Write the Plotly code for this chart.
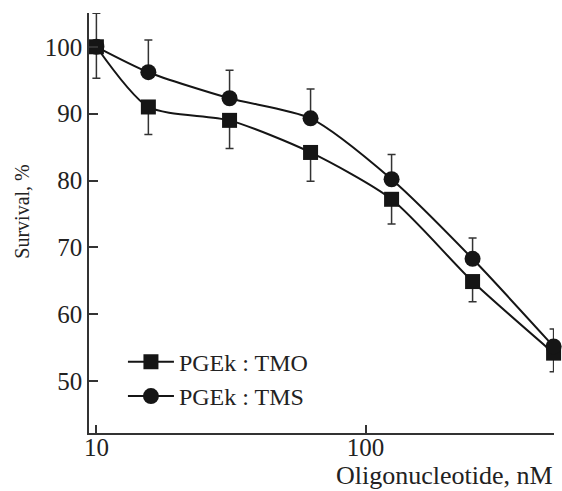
import plotly.graph_objects as go

# Data
conc = [10, 15.6, 31.25, 62.5, 125, 250, 500]
tmo = [100, 91.0, 89.0, 84.2, 77.2, 64.9, 54.2]
tmo_err_minus = [4.7, 4.1, 4.2, 4.3, 3.7, 3.0, 2.8]
tms = [100, 96.2, 92.3, 89.3, 80.2, 68.3, 55.2]
tms_err_plus = [5.0, 4.8, 4.2, 4.4, 3.7, 3.1, 2.6]
names = ["PGEk : TMO", "PGEk : TMS"]
yticks = [50, 60, 70, 80, 90, 100]
xticks = [10, 100]

INK = "#151515"
FONT = "Liberation Serif, Times New Roman, serif"

fig = go.Figure()
fig.add_trace(go.Scatter(
    x=conc, y=tmo, name=names[0], mode="lines+markers",
    line=dict(color=INK, width=2, shape="spline", smoothing=0.7),
    marker=dict(symbol="square", size=15, color=INK),
    error_y=dict(type="data", symmetric=False, array=[0]*len(conc),
                 arrayminus=tmo_err_minus, color="#333", thickness=1.5, width=4),
    cliponaxis=False,
))
fig.add_trace(go.Scatter(
    x=conc, y=tms, name=names[1], mode="lines+markers",
    line=dict(color=INK, width=2, shape="spline", smoothing=0.7),
    marker=dict(symbol="circle", size=16, color=INK),
    error_y=dict(type="data", symmetric=False, array=tms_err_plus,
                 arrayminus=[0]*len(conc), color="#333", thickness=1.5, width=4),
    cliponaxis=False,
))

fig.update_layout(
    width=562, height=491,
    margin=dict(l=89, r=8, t=13, b=58),
    paper_bgcolor="white", plot_bgcolor="white",
    font=dict(family=FONT, size=25, color="#222"),
    showlegend=True,
    legend=dict(x=0.073, y=0.222, xanchor="left", yanchor="top",
                bgcolor="rgba(0,0,0,0)", font=dict(family=FONT, size=24, color="#222"),
                tracegroupgap=0, itemwidth=46),
    xaxis=dict(type="log", range=[0.9725, 2.7005], tickvals=xticks,
               ticktext=[str(v) for v in xticks],
               ticks="inside", ticklen=8, tickwidth=1.5, tickcolor="#333",
               showline=True, linecolor="#333", linewidth=1.5,
               showgrid=False, zeroline=False, ticklabelstandoff=-9,
               tickfont=dict(family=FONT, size=25)),
    yaxis=dict(range=[42.26, 105.05], tickvals=yticks,
               ticks="inside", ticklen=9, tickwidth=1.5, tickcolor="#333",
               showline=True, linecolor="#333", linewidth=1.5,
               showgrid=False, zeroline=False,
               tickfont=dict(family=FONT, size=25)),
    annotations=[
        dict(text="Oligonucleotide, nM", xref="paper", yref="paper",
             x=1.003, y=-0.1, xanchor="right", yanchor="middle",
             showarrow=False, font=dict(family=FONT, size=26, color="#222")),
        dict(text="Survival, %", xref="paper", yref="paper",
             x=-0.144, y=0.527, xanchor="center", yanchor="middle",
             textangle=-90, showarrow=False, font=dict(family=FONT, size=20, color="#222")),
    ],
)

fig.write_html("out.html")
